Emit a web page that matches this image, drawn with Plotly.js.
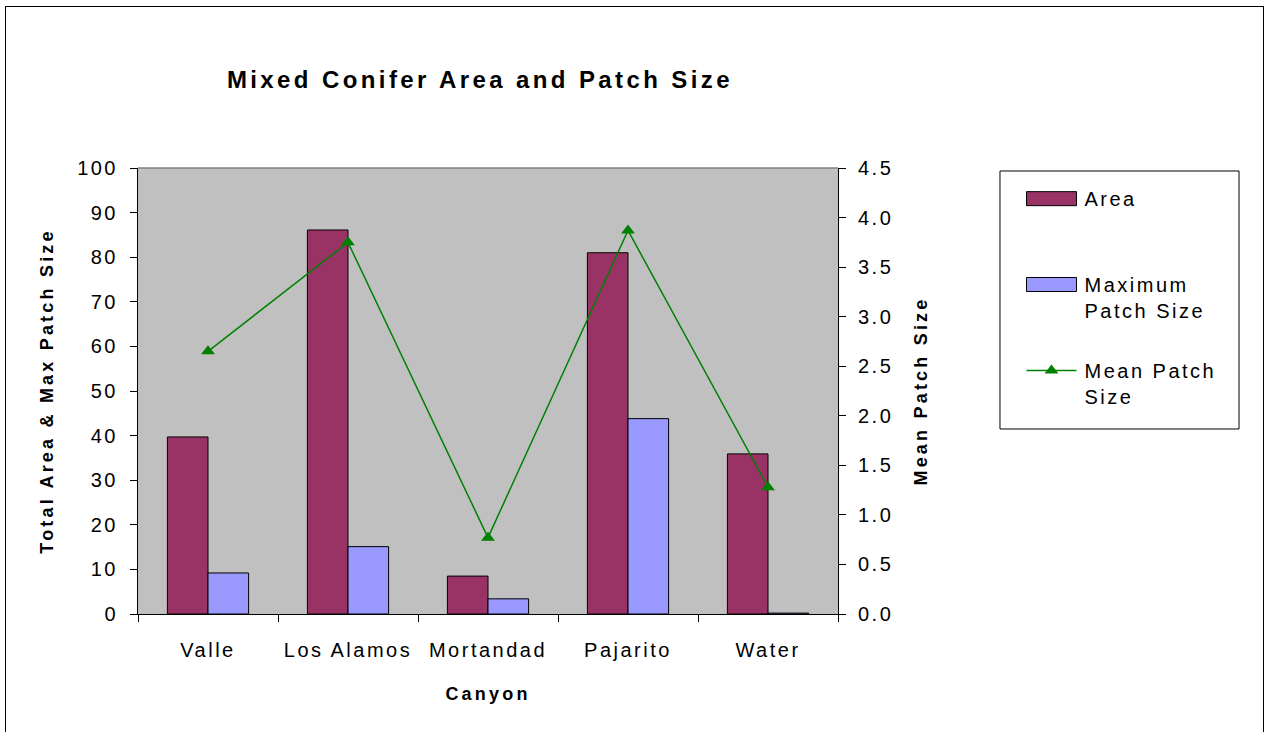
<!DOCTYPE html>
<html>
<head>
<meta charset="utf-8">
<script src="https://cdn.plot.ly/plotly-3.0.1.min.js"></script>
<style>
  html, body { margin: 0; padding: 0; background: #fff; }
  #wrap { position: relative; width: 1268px; height: 732px; overflow: hidden; }
  #chart { width: 1268px; height: 732px; }
  #frame { position: absolute; left: 5px; top: 6px; width: 1257px; height: 740px; border: 1px solid #000; pointer-events: none; }
  .main-svg .xtick text, .main-svg .ytick text, .main-svg .y2tick text { letter-spacing: 2.5px; }
  .main-svg g.traces text, .main-svg g.traces tspan { letter-spacing: 2.5px !important; }
  .main-svg .gtitle { letter-spacing: 3.4px; }
  .main-svg .xtitle, .main-svg .ytitle, .main-svg .y2title { letter-spacing: 3.2px; }
  .main-svg .scrollbox { clip-path: none !important; }
</style>
</head>
<body>
<div id="wrap">
  <div id="chart"></div>
  <div id="frame"></div>
</div>
<script>
// Data
const categories = ['Valle', 'Los Alamos', 'Mortandad', 'Pajarito', 'Water'];
const area = [39.7, 86.1, 8.5, 81.0, 35.9];
const maxPatch = [9.2, 15.1, 3.4, 43.8, 0.2];
const meanPatch = [2.65, 3.75, 0.77, 3.87, 1.28];
const leftTicks = [0, 10, 20, 30, 40, 50, 60, 70, 80, 90, 100];
const rightTicks = [0, 0.5, 1, 1.5, 2, 2.5, 3, 3.5, 4, 4.5];

const FONT = 'Liberation Sans, Arial, sans-serif';

const traces = [
  {
    type: 'bar', name: 'Area', x: categories, y: area,
    marker: { color: '#993366', line: { color: '#000', width: 1 } },
    legend: 'legend', legendgroup: 'a'
  },
  {
    type: 'bar', name: 'Maximum<br>Patch Size', x: categories, y: maxPatch,
    marker: { color: '#9999FF', line: { color: '#000', width: 1 } },
    legend: 'legend2', legendgroup: 'b'
  },
  {
    type: 'scatter', mode: 'lines+markers', name: 'Mean Patch<br>Size',
    x: categories, y: meanPatch, yaxis: 'y2',
    line: { color: '#008000', width: 1.5 },
    marker: { symbol: 'triangle-up', size: 12, color: '#008000' },
    legend: 'legend2', legendgroup: 'c'
  }
];

const legendCommon = {
  x: 1.2807, xanchor: 'left', xref: 'paper', yanchor: 'top', yref: 'paper',
  bgcolor: 'rgba(0,0,0,0)', borderwidth: 0,
  traceorder: 'grouped', itemwidth: 40, valign: 'top',
  font: { family: FONT, size: 20, color: '#000' }
};

const layout = {
  width: 1268, height: 732,
  margin: { l: 138, r: 430, t: 168, b: 118 },
  paper_bgcolor: '#fff',
  plot_bgcolor: '#C0C0C0',
  font: { family: FONT, size: 20, color: '#000' },
  barmode: 'group',
  bargap: 0.42,
  bargroupgap: 0,
  title: {
    text: '<b>Mixed Conifer Area and Patch Size</b>',
    font: { family: FONT, size: 24, color: '#000' },
    x: 0.3785, xanchor: 'center', xref: 'container',
    y: 0.891, yanchor: 'middle', yref: 'container'
  },
  xaxis: {
    type: 'category',
    showline: true, linecolor: '#000', linewidth: 1,
    ticks: 'outside', ticklen: 7, tickcolor: '#000', tickson: 'boundaries',
    showgrid: false, zeroline: false,
    tickfont: { family: FONT, size: 20 },
    ticklabelstandoff: 18,
    title: { text: '<b>Canyon</b>', font: { family: FONT, size: 18 }, standoff: 27 },
    automargin: true
  },
  yaxis: {
    range: [0, 100], tickvals: leftTicks,
    showline: true, linecolor: '#000', linewidth: 1,
    ticks: 'outside', ticklen: 7, tickcolor: '#000',
    showgrid: false, zeroline: false,
    tickfont: { family: FONT, size: 20 },
    ticklabelstandoff: 8,
    title: { text: '<b>Total Area &amp; Max Patch Size</b>', font: { family: FONT, size: 18 }, standoff: 26 },
    automargin: true
  },
  yaxis2: {
    overlaying: 'y', side: 'right',
    range: [0, 4.5], tickvals: rightTicks, tickformat: '.1f',
    showline: true, linecolor: '#000', linewidth: 1,
    ticks: 'outside', ticklen: 7, tickcolor: '#000',
    showgrid: false, zeroline: false,
    tickfont: { family: FONT, size: 20 },
    ticklabelstandoff: 8,
    title: { text: '<b>Mean Patch Size</b>', font: { family: FONT, size: 18 }, standoff: 29 },
    automargin: true
  },
  showlegend: true,
  legend: Object.assign({}, legendCommon, { y: 0.975 }),
  legend2: Object.assign({}, legendCommon, { y: 0.7825, tracegroupgap: 31 }),
  shapes: [
    // legend frame
    { type: 'rect', xref: 'paper', yref: 'paper', x0: 1.2314, x1: 1.5729, y0: 0.4148, y1: 0.9933,
      line: { color: '#000', width: 1 }, fillcolor: '#fff', layer: 'below' },
    // grey top edge of the plot area
    { type: 'line', xref: 'paper', yref: 'paper', x0: 0, x1: 1, y0: 1, y1: 1,
      line: { color: '#808080', width: 1.5 }, layer: 'above' }
  ]
};

// Widen legend swatches to match the reference (style only, idempotent)
function originX(el) {
  const bb = el.getBBox();
  const r = el.getBoundingClientRect();
  return r.left - bb.x;
}
function traceType(g) {
  try { return g.__data__[0].trace.type; } catch (e) { return ''; }
}
function fixLegend() {
  document.querySelectorAll('#chart g.traces').forEach(g => {
    try {
      const t = g.querySelector('text');
      if (!t) return;
      const tr0 = t.getBoundingClientRect();
      if (!tr0.width) return;
      const textLeft = tr0.left;
      const L = textLeft - 58, R = textLeft - 8;
      if (traceType(g) === 'scatter') {
        g.querySelectorAll('g.legendlines path').forEach(p => {
          const ox = originX(p);
          const d = 'M' + (L - ox).toFixed(2) + ',0H' + (R - ox).toFixed(2);
          if (p.getAttribute('d') !== d) p.setAttribute('d', d);
        });
        g.querySelectorAll('g.legendpoints path').forEach(p => {
          const r = p.getBoundingClientRect();
          const cx = (r.left + r.right) / 2;
          const delta = (L + R) / 2 - cx;
          if (Math.abs(delta) < 0.3) return;
          const tr = p.getAttribute('transform') || '';
          const m = tr.match(/translate\(\s*([-\d.e]+)[ ,]+([-\d.e]+)\s*\)/);
          const a = m ? parseFloat(m[1]) : 0, b = m ? parseFloat(m[2]) : 0;
          p.setAttribute('transform', 'translate(' + (a + delta).toFixed(2) + ',' + b + ')');
        });
      } else {
        g.querySelectorAll('g.legendpoints path').forEach(p => {
          const ox = originX(p);
          const l = (L - ox).toFixed(2), r = (R - ox).toFixed(2);
          const d = 'M' + r + ',7H' + l + 'V-7H' + r + 'Z';
          if (p.getAttribute('d') !== d) p.setAttribute('d', d);
        });
      }
    } catch (e) { /* ignore */ }
  });
}

const gd = document.getElementById('chart');
let busy = false;
function safeFix() { if (busy) return; busy = true; try { fixLegend(); } finally { busy = false; } }
const mo = new MutationObserver(safeFix);
mo.observe(gd, { childList: true, subtree: true });

Plotly.newPlot(gd, traces, layout, { displayModeBar: false, staticPlot: true }).then(() => {
  safeFix();
  gd.on('plotly_afterplot', safeFix);
  requestAnimationFrame(safeFix);
  setTimeout(safeFix, 50);
  setTimeout(safeFix, 300);
});
</script>
</body>
</html>
